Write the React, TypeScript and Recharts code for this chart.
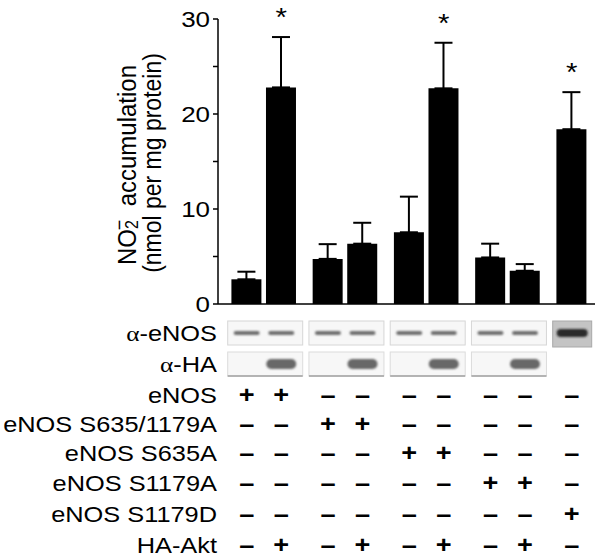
import React from 'react';
import { ComposedChart, Bar, XAxis, YAxis, ErrorBar, Scatter, Customized } from 'recharts';

// lane positions on the x axis (pairs of lanes with a gap between groups)
const lanes = [0, 1, 2.35, 3.35, 4.7, 5.7, 7.05, 8.05, 9.4];
const means = [2.6, 22.8, 4.75, 6.35, 7.55, 22.7, 4.9, 3.5, 18.4];
const sems = [0.8, 5.3, 1.55, 2.2, 3.75, 4.8, 1.45, 0.7, 3.9];
const significant = [false, true, false, false, false, true, false, false, true];

const yTicks = [0, 5, 10, 15, 20, 25, 30];
const yTickLabels = ['0', '', '10', '', '20', '', '30'];

const blotLabels = ['\u03b1-eNOS', '\u03b1-HA'];
const rowLabels = ['eNOS', 'eNOS S635/1179A', 'eNOS S635A', 'eNOS S1179A', 'eNOS S1179D', 'HA-Akt'];
const signs = [
  ['+', '+', '–', '–', '–', '–', '–', '–', '–'],
  ['–', '–', '+', '+', '–', '–', '–', '–', '–'],
  ['–', '–', '–', '–', '+', '+', '–', '–', '–'],
  ['–', '–', '–', '–', '–', '–', '+', '+', '–'],
  ['–', '–', '–', '–', '–', '–', '–', '–', '+'],
  ['–', '+', '–', '+', '–', '+', '–', '+', '–'],
];

const data = lanes.map((lane, i) => ({
  lane,
  mean: means[i],
  err: [0, sems[i]],
  star: significant[i] ? means[i] + sems[i] : null,
}));

const FONT = '"Liberation Sans", Arial, Helvetica, sans-serif';
const SX = 1.18; // the figure is slightly stretched horizontally

const blotY = [333, 364];
const rowY = [395, 424, 453, 483, 514, 545];

const Txt = ({ x, y, anchor = 'middle', size = 21.5, weight = 'normal', children }: any) => (
  <text
    transform={`translate(${x},${y}) scale(${SX},1)`}
    textAnchor={anchor}
    fontFamily={FONT}
    fontSize={size}
    fontWeight={weight}
    fill="#000"
  >
    {children}
  </text>
);

const YTick = ({ x, y, payload }: any) => {
  const label = yTickLabels[yTicks.indexOf(payload.value)];
  if (!label) return <g />;
  return <Txt x={x} y={y + 8} anchor="end" size={22}>{label}</Txt>;
};

const ColumnTick = ({ x, payload }: any) => {
  const i = lanes.indexOf(payload.value);
  if (i < 0) return <g />;
  const isPairStart = i % 2 === 0 && i < 8;
  const single = i === 8;
  return (
    <g>
      {isPairStart && (
        <g>
          <rect x={x - 19} y={321} width={75} height={24} fill="#f7f7f7" stroke="#d6d6d6" strokeWidth={1} />
          <rect x={x - 19} y={352} width={75} height={24} fill="#f7f7f7" stroke="#dcdcdc" strokeWidth={1} />
          <line x1={x - 19} x2={x + 56} y1={376} y2={376} stroke="#a0a0a0" strokeWidth={1.5} />
        </g>
      )}
      {single ? (
        <g>
          <rect x={x - 19} y={321} width={39} height={26} fill="#c4c4c4" stroke="#a9a9a9" strokeWidth={1} />
          <rect x={x - 15} y={329} width={31} height={8} rx={4} fill="#2a2a2a" filter="url(#blotBlur)" />
        </g>
      ) : (
        <rect x={x - 13} y={331} width={26} height={4} rx={2} fill="#6e6e6e" filter="url(#blotBlur)" />
      )}
      {signs[5][i] === '+' && (
        <rect x={x - 15} y={359} width={30} height={10} rx={5} fill="#676767" filter="url(#blotBlur)" />
      )}
      {signs.map((row, r) => (
        <Txt key={r} x={x} y={rowY[r] + 8} size={23} weight="bold">{row[i]}</Txt>
      ))}
    </g>
  );
};

const StarShape = ({ cx, cy, payload }: any) => {
  if (payload == null || payload.star == null || cy == null) return <g />;
  return <Txt x={cx} y={cy - 11} size={25}>*</Txt>;
};

const Annotations = () => (
  <g>
    <defs>
      <filter id="blotBlur" x="-20%" y="-50%" width="140%" height="200%">
        <feGaussianBlur stdDeviation={0.8} />
      </filter>
    </defs>
    <text
      transform="translate(136,165) scale(1.1,1) rotate(-90)"
      textAnchor="middle"
      fontFamily={FONT}
      fontSize={24}
      fill="#000"
    >
      <tspan>NO</tspan>
      <tspan fontSize={16} dy={2}>2</tspan>
      <tspan fontSize={18} dx={-10} dy={-11}>{'\u2212'}</tspan>
      <tspan fontSize={24} dy={9}>{'\u00a0 accumulation'}</tspan>
    </text>
    <text
      transform="translate(161,163) scale(1.1,1) rotate(-90)"
      textAnchor="middle"
      fontFamily={FONT}
      fontSize={23}
      fill="#000"
    >
      (nmol per mg protein)
    </text>
    {blotLabels.map((t, k) => (
      <text
        key={t}
        transform={`translate(217,${blotY[k] + 8}) scale(${SX},1)`}
        textAnchor="end"
        fontFamily={FONT}
        fontSize={21.5}
        fill="#000"
      >
        <tspan fontFamily='"Liberation Serif", "DejaVu Serif", serif'>{t.charAt(0)}</tspan>
        {t.slice(1)}
      </text>
    ))}
    {rowLabels.map((t, r) => (
      <Txt key={t} x={217} y={rowY[r] + 8} anchor="end">{t}</Txt>
    ))}
  </g>
);

export default function App() {
  return (
    <div style={{ width: 601, height: 560, background: '#fff' }}>
      <style>{'body{margin:0}'}</style>
      <ComposedChart
        width={601}
        height={560}
        data={data}
        margin={{ top: 19, right: 6, left: 0, bottom: 0 }}
      >
        <XAxis
          type="number"
          dataKey="lane"
          domain={[-0.83, 10.074]}
          ticks={lanes}
          interval={0}
          height={256}
          tickLine={false}
          axisLine={{ stroke: '#000', strokeWidth: 1.5 }}
          tick={<ColumnTick />}
        />
        <YAxis
          type="number"
          domain={[0, 30]}
          ticks={yTicks}
          interval={0}
          width={218}
          tickSize={5}
          tickMargin={3}
          tickLine={{ stroke: '#000', strokeWidth: 1.5 }}
          axisLine={{ stroke: '#000', strokeWidth: 1.5 }}
          tick={<YTick />}
        />
        <Bar dataKey="mean" fill="#000" barSize={30} isAnimationActive={false}>
          <ErrorBar dataKey="err" direction="y" width={9} stroke="#000" strokeWidth={2} />
        </Bar>
        <Scatter dataKey="star" shape={<StarShape />} isAnimationActive={false} />
        <Customized component={<Annotations />} />
      </ComposedChart>
    </div>
  );
}
